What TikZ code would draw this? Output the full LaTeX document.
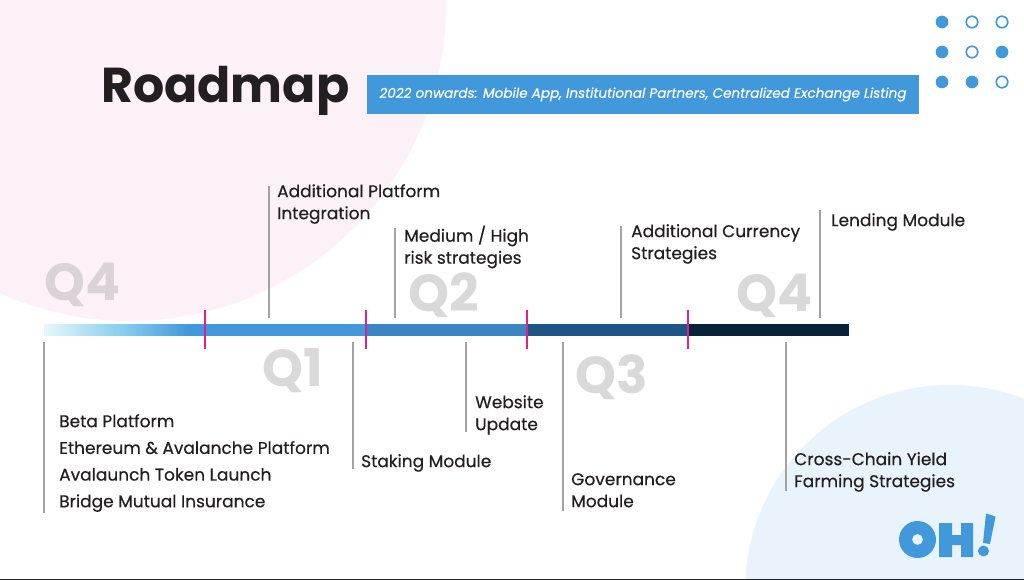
\documentclass[tikz,border=0pt]{standalone}
\usepackage{fontspec}
\setmainfont{Poppins}
\newfontfamily\medfont{Poppins}[FakeBold=0.35]
\newfontfamily\banfont{Poppins}[ItalicFont=* Italic,FakeBold=0.35]
\definecolor{dotblue}{HTML}{4199DC}
\definecolor{pinkbg}{HTML}{FBF1F7}
\definecolor{bluebg}{HTML}{E8F3FB}
\definecolor{qgrey}{HTML}{D9D9D9}
\definecolor{qpink}{HTML}{D9D3D8}
\definecolor{tickpink}{HTML}{E0208F}
\definecolor{stemgrey}{HTML}{A3A3A3}
\definecolor{ink}{HTML}{231F20}
\definecolor{navya}{HTML}{1F5486}
\definecolor{navyb}{HTML}{082238}
\definecolor{midb}{HTML}{3A86C2}
\definecolor{barstart}{HTML}{E6F6FB}
\definecolor{barmid}{HTML}{8FD2EE}
\tikzset{
  x=1pt,y=-1pt,
  lbl/.style={inner sep=0pt,anchor=north west,align=left,font=\fontsize{17}{22}\selectfont\medfont,text=ink},
  qmark/.style={inner sep=0pt,anchor=center,font=\fontsize{52}{52}\selectfont\bfseries,text=qgrey},
  stemline/.style={draw=stemgrey,line width=1.5pt},
  tickline/.style={draw=tickpink,line width=2.5pt},
  fdot/.style={circle,fill=dotblue,minimum size=12.7pt,inner sep=0pt},
  odot/.style={circle,draw=dotblue,fill=white,line width=1.7pt,minimum size=11.5pt,inner sep=0pt},
}
\begin{document}
\begin{tikzpicture}
\useasboundingbox (0,0) rectangle (1024,580);
\fill[white] (0,0) rectangle (1024,580);
\begin{scope}
\clip (0,0) rectangle (1024,580);
\fill[pinkbg] (130,5) circle[radius=316];
\fill[bluebg] (950,590) circle[radius=205];
\end{scope}
\fill[ink] (0,578.5) rectangle (1024,580);
% title
\node[inner sep=0pt,anchor=west,text=ink,font=\fontsize{49}{49}\selectfont\bfseries] (title) at (101,91) {Roadmap};
\node[fill=dotblue,text=white,minimum width=552pt,minimum height=38.5pt,inner sep=0pt,font=\fontsize{13.6}{16}\selectfont\banfont\itshape] (banner) at (643,94.5) {2022 onwards: Mobile App, Institutional Partners, Centralized Exchange Listing};
% dots
\node[fdot] (d11) at (942,22) {};
\node[odot] (d12) at (972,22) {};
\node[odot] (d13) at (1002,22) {};
\node[fdot] (d21) at (942,52) {};
\node[odot] (d22) at (972,52) {};
\node[fdot] (d23) at (1002,52) {};
\node[fdot] (d31) at (942,82) {};
\node[fdot] (d32) at (972,82) {};
\node[odot] (d33) at (1002,82) {};
% Q labels
\node[qmark,text=qpink] (q0) at (83,284.5) {Q4};
\node[qmark] (q1) at (293,370.5) {Q1};
\node[qmark] (q2) at (444,295.5) {Q2};
\node[qmark] (q3) at (612,377.5) {Q3};
\node[qmark] (q4) at (775,295.5) {Q4};
% bar
\fill[dotblue] (186,324) rectangle (366,336);
\foreach \i in {0,...,35}{
  \pgfmathtruncatemacro{\pc}{\i*100/35}
  \fill[barmid!\pc!barstart] ({44+\i*2},324) rectangle ({46.6+\i*2},336);
}
\foreach \i in {0,...,35}{
  \pgfmathtruncatemacro{\pc}{\i*100/35}
  \fill[dotblue!\pc!barmid] ({116+\i*2},324) rectangle ({118.6+\i*2},336);
}
\fill[midb] (366,324) rectangle (527,336);
\fill[navya] (527,324) rectangle (688,336);
\fill[navyb] (688,324) rectangle (849,336);
% ticks
\coordinate (t1a) at (205,310); \coordinate (t1b) at (205,349);
\coordinate (t2a) at (366,310); \coordinate (t2b) at (366,349);
\coordinate (t3a) at (527,310); \coordinate (t3b) at (527,349);
\coordinate (t4a) at (688,310); \coordinate (t4b) at (688,349);
\draw[tickline] (t1a)--(t1b); \draw[tickline] (t2a)--(t2b); \draw[tickline] (t3a)--(t3b); \draw[tickline] (t4a)--(t4b);
% labels
\node[lbl] (a) at (277,184) {Additional Platform\\Integration};
\node[lbl] (b) at (404,225.5) {Medium / High\\risk strategies};
\node[lbl] (c) at (631,224) {Additional Currency\\Strategies};
\node[lbl] (d) at (831,213) {Lending Module};
\node[lbl,font=\fontsize{17}{26.7}\selectfont\medfont] (e) at (59,414) {Beta Platform\\Ethereum \& Avalanche Platform\\Avalaunch Token Launch\\Bridge Mutual Insurance};
\node[lbl] (f) at (361,454) {Staking Module};
\node[lbl] (g) at (475,395) {Website\\Update};
\node[lbl] (h) at (571,473) {Governance\\Module};
\node[lbl] (i) at (794,452) {Cross-Chain Yield\\Farming Strategies};
% stems
\coordinate (s1) at (269,186); \coordinate (s1b) at (269,318);
\coordinate (s2) at (395,228); \coordinate (s2b) at (395,318);
\coordinate (s3) at (621,226); \coordinate (s3b) at (621,318);
\coordinate (s4) at (820,210); \coordinate (s4b) at (820,318);
\coordinate (s5) at (44,342); \coordinate (s5b) at (44,513);
\coordinate (s6) at (353,342); \coordinate (s6b) at (353,469);
\coordinate (s7) at (466,342); \coordinate (s7b) at (466,432);
\coordinate (s8) at (563,342); \coordinate (s8b) at (563,511);
\coordinate (s9) at (786,342); \coordinate (s9b) at (786,491);
\foreach \p/\q in {s1/s1b,s2/s2b,s3/s3b,s4/s4b,s5/s5b,s6/s6b,s7/s7b,s8/s8b,s9/s9b} \draw[stemline] (\p)--(\q);
% logo
\fill[dotblue,even odd rule] (917.5,539.5) circle[radius=18.5] (917.5,539.5) circle[radius=5.5];
\fill[dotblue] (939,523) rectangle (952,557) (952,535) rectangle (961,545) (961,523) rectangle (973,557);
\fill[dotblue] (986,513.5) -- (995.5,516.5) -- (990,544) -- (983,543) -- cycle;
\fill[dotblue] (983.5,551) circle[radius=5.5];
\end{tikzpicture}
\end{document}
